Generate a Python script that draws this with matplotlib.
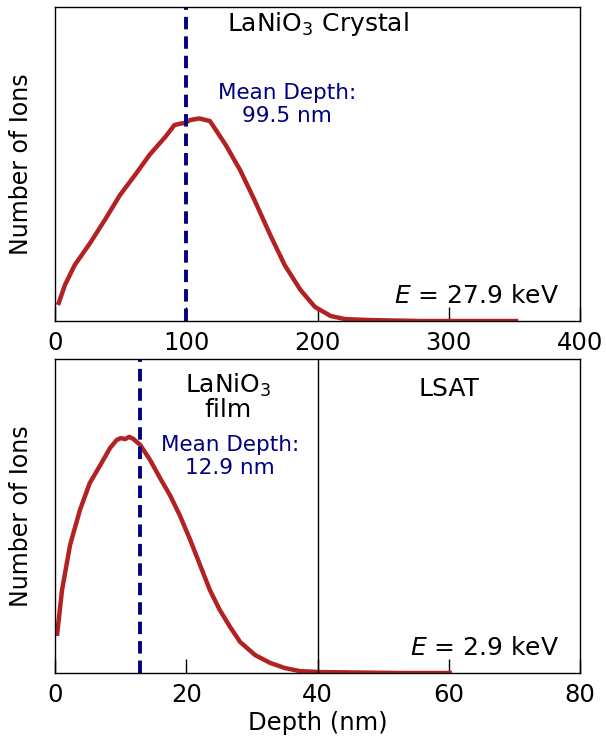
import matplotlib
matplotlib.use("Agg")
import matplotlib.pyplot as plt

# implantation profiles (arbitrary units)
crystal_depth = [2.3, 7.6, 15, 26.7, 38, 49.5, 61, 72, 84, 91, 95, 99, 103,
                 107, 110, 114, 118, 122, 130, 141, 152, 164, 175, 187, 198,
                 210, 221, 240, 278, 353]
crystal_ions = [0.051, 0.115, 0.178, 0.248, 0.322, 0.401, 0.465, 0.529, 0.586,
                0.624, 0.628, 0.631, 0.640, 0.643, 0.645, 0.641, 0.637, 0.612,
                0.561, 0.481, 0.385, 0.274, 0.178, 0.099, 0.045, 0.016, 0.006,
                0.003, 0.0, 0.0]

film_depth = [0.3, 1.07, 2.3, 3.8, 5.3, 6.9, 8.4, 9.4, 10.0, 10.7, 11.3,
              11.9, 13, 14.5, 16, 17.5, 19, 20.6, 22.1, 23.6, 25.1, 26.7,
              28.2, 30.5, 32.8, 35, 37.3, 40.4, 52.6, 60.5]
film_ions = [0.118, 0.264, 0.408, 0.519, 0.605, 0.662, 0.717, 0.742, 0.748,
             0.745, 0.752, 0.746, 0.726, 0.678, 0.621, 0.567, 0.503, 0.424,
             0.344, 0.264, 0.201, 0.146, 0.099, 0.057, 0.032, 0.016, 0.006,
             0.003, 0.0, 0.0]

crystal_mean = 99.5
film_mean = 12.9
interface = 40

red = "#b22222"
navy = "#000080"

fig = plt.figure(figsize=(6.06, 7.45), dpi=100)
ax1 = fig.add_axes([55 / 606, 1 - 321 / 745, 525 / 606, 314 / 745])
ax2 = fig.add_axes([55 / 606, 1 - 673 / 745, 525 / 606, 314 / 745])

for ax in (ax1, ax2):
    ax.set_ylim(0, 1)
    ax.set_yticks([])
    ax.set_ylabel("Number of Ions", fontsize=17, labelpad=16)
    ax.tick_params(axis="x", direction="in", length=10, width=1, pad=7,
                   labelsize=17.5, top=False)
    for s in ax.spines.values():
        s.set_linewidth(1)

# top: crystal
ax1.plot(crystal_depth, crystal_ions, color=red, lw=3.2, solid_capstyle="butt")
ax1.axvline(crystal_mean, color=navy, lw=2.8, ls=(0, (3.2, 1.8)))
ax1.set_xlim(0, 400)
ax1.set_xticks([0, 100, 200, 300, 400])
ax1.text(200, 0.945, "LaNiO$_3$ Crystal", ha="center", va="center", fontsize=18)
ax1.text(177, 0.69, "Mean Depth:\n99.5 nm", ha="center", va="center",
         fontsize=15.5, color=navy, linespacing=1.15)
ax1.text(384, 0.08, "$E$ = 27.9 keV", ha="right", va="center", fontsize=18)

# bottom: film on LSAT
ax2.plot(film_depth, film_ions, color=red, lw=3.2, solid_capstyle="butt")
ax2.axvline(film_mean, color=navy, lw=2.8, ls=(0, (3.2, 1.8)))
ax2.axvline(interface, color="black", lw=1)
ax2.set_xlim(0, 80)
ax2.set_xticks([0, 20, 40, 60, 80])
ax2.text(26.4, 0.88, "LaNiO$_3$\nfilm", ha="center", va="center",
         fontsize=18, linespacing=0.95)
ax2.text(60, 0.905, "LSAT", ha="center", va="center", fontsize=18)
ax2.text(26.7, 0.69, "Mean Depth:\n12.9 nm", ha="center", va="center",
         fontsize=15.5, color=navy, linespacing=1.15)
ax2.text(76.8, 0.08, "$E$ = 2.9 keV", ha="right", va="center", fontsize=18)
ax2.set_xlabel("Depth (nm)", fontsize=17.5, labelpad=3)

fig.savefig("out.png", dpi=100)
